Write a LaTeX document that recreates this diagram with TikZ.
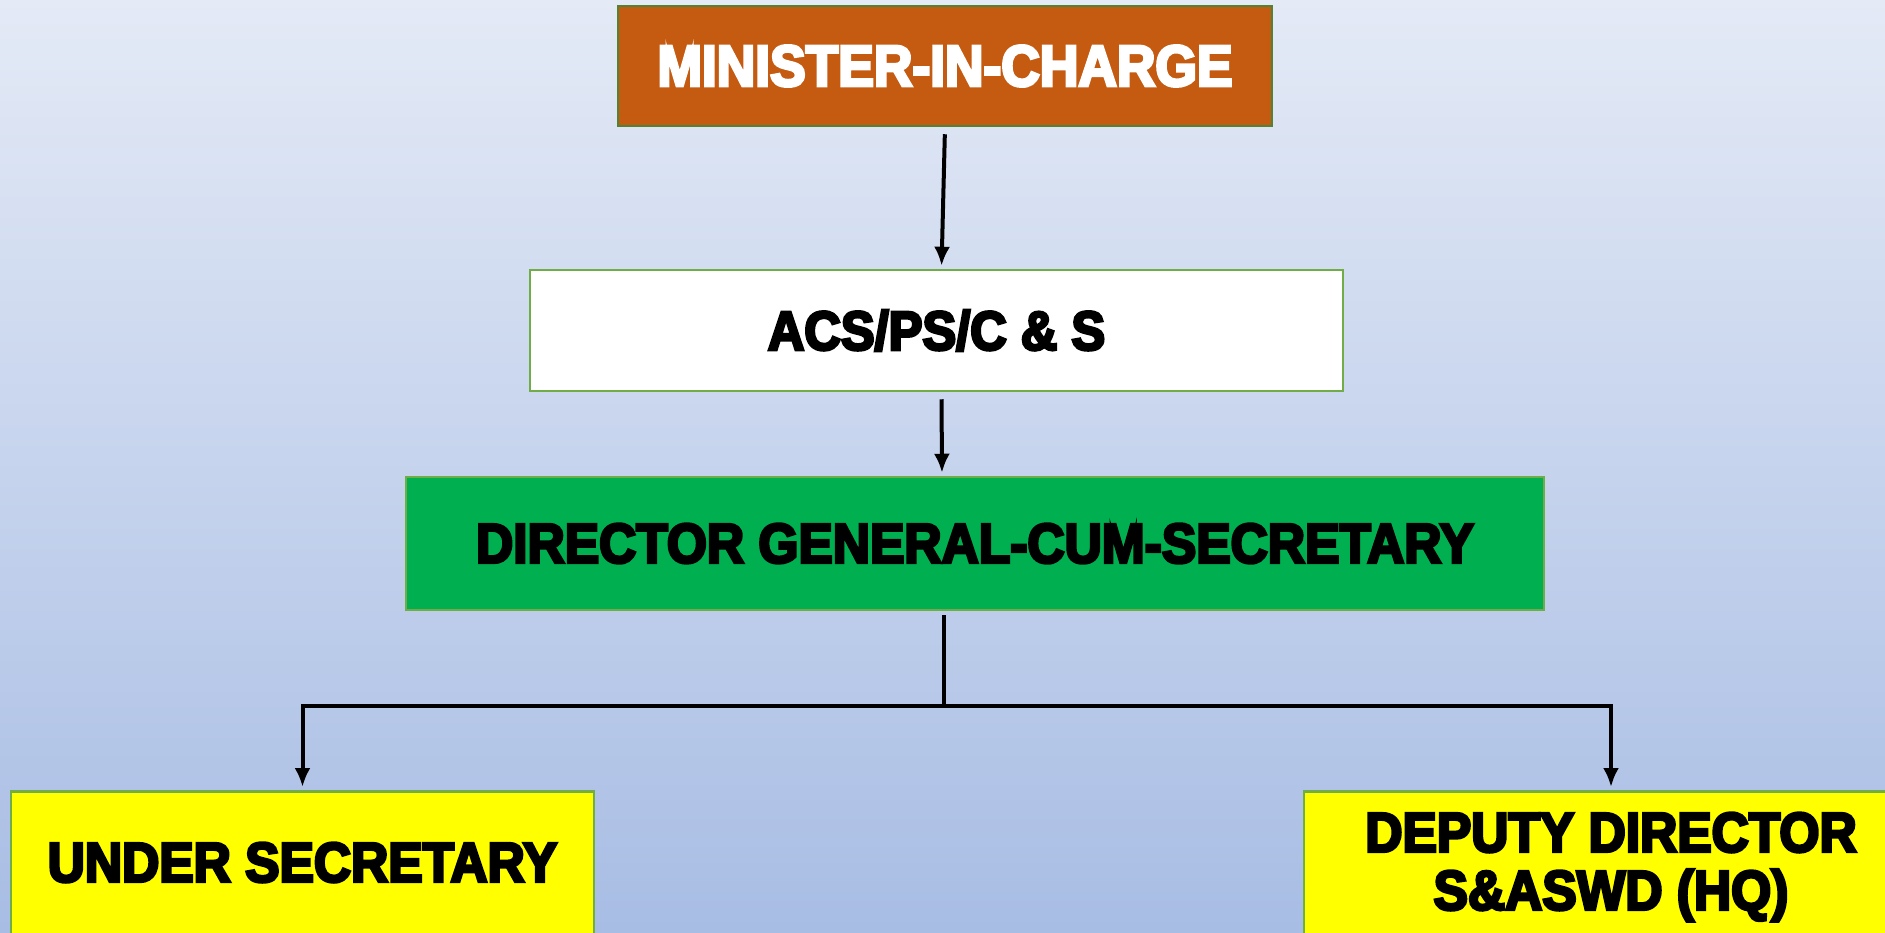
\documentclass[tikz,border=0pt]{standalone}
\usepackage{fontspec}
\newfontfamily\orgfont[FakeStretch=0.92,BoldFeatures={FakeBold=5}]{Liberation Sans}
\usetikzlibrary{arrows.meta}
\definecolor{bgtop}{HTML}{E4EAF6}
\definecolor{bgbot}{HTML}{A8BDE4}
\definecolor{rust}{HTML}{C55A11}
\definecolor{leaf}{HTML}{70AD47}
\definecolor{moss}{HTML}{548235}
\definecolor{dgreen}{HTML}{00B050}
\definecolor{lemon}{HTML}{FFFF00}
\tikzset{
	post/.style={draw=leaf, line width=2.5pt, align=center, inner sep=0pt, font={\orgfont\bfseries\fontsize{56}{58}\selectfont}},
	link/.style={line width=4pt},
	arr/.style={link, -{Latex[length=19pt,width=16pt]}, shorten >=3pt}
}
\begin{document}
\begin{tikzpicture}[x=1pt,y=-1pt]
	\shade[top color=bgtop, bottom color=bgbot] (0,0) rectangle (1885,932);
	\useasboundingbox (0,0) rectangle (1885,932);
	\node[post, draw=moss, fill=rust, text=white, minimum width=654pt, minimum height=120pt, font={\orgfont\bfseries\fontsize{58}{60}\selectfont}] (minister) at (945,66) {MINISTER-IN-CHARGE};
	\node[post, fill=white, minimum width=813pt, minimum height=121pt, font={\orgfont\bfseries\fontsize{55}{57}\selectfont}] (acs) at (936.5,330.5) {ACS/PS/C \& S};
	\node[post, fill=dgreen, minimum width=1138pt, minimum height=133pt] (dg) at (975,543.5) {DIRECTOR GENERAL-CUM-SECRETARY};
	\node[post, fill=lemon, anchor=north, minimum width=583pt, minimum height=170pt, text depth=28pt] (under) at (302.5,790) {UNDER SECRETARY};
	\node[post, fill=lemon, anchor=north, minimum width=614pt, minimum height=170pt, text depth=30pt] (deputy) at (1611,790) {DEPUTY DIRECTOR\\S\&ASWD (HQ)};

	\draw[arr, shorten <=7pt] (minister.south) -- ([xshift=5pt]acs.north);
	\draw[arr, shorten <=7pt] ([xshift=5pt]acs.south) -- ([xshift=-33pt]dg.north);
	\draw[link, shorten <=4pt] ([xshift=-31pt]dg.south) -- ++(0,95) coordinate (split);
	\draw[arr] (split) -| (under.north);
	\draw[arr] (split) -| (deputy.north);
\end{tikzpicture}
\end{document}
